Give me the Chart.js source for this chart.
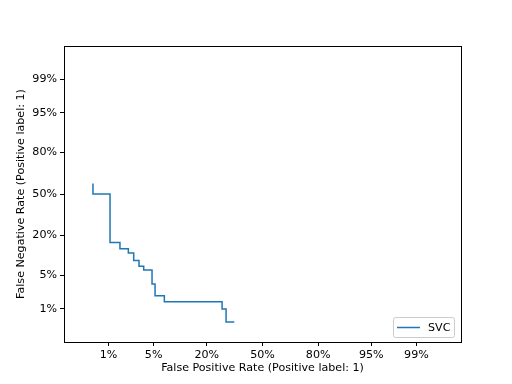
<!DOCTYPE html>
<html>
<head>
<meta charset="utf-8">
<script src="https://cdn.jsdelivr.net/npm/chart.js@4.4.1/dist/chart.umd.min.js"></script>
<style>
  html, body { margin: 0; padding: 0; background: #fff; }
  #wrap { width: 512px; height: 384px; }
</style>
</head>
<body>
<div id="wrap"><canvas id="det-chart" width="512" height="384"></canvas></div>
<script>
// DET curve vertices (rates)
const seriesName = 'SVC';
const fprValues = [0.0052, 0.0052, 0.0106, 0.0106, 0.0156, 0.0156, 0.0213, 0.0213, 0.0258, 0.0258,
  0.031, 0.031, 0.0363, 0.0363, 0.0475, 0.0475, 0.0522, 0.0522, 0.069, 0.069,
  0.2706, 0.2706, 0.291, 0.291, 0.335];
const fnrValues = [0.585, 0.50, 0.50, 0.163, 0.163, 0.133, 0.133, 0.116, 0.116, 0.089,
  0.089, 0.0718, 0.0718, 0.062, 0.062, 0.0342, 0.0342, 0.0195, 0.0195, 0.0144,
  0.0144, 0.0099, 0.0099, 0.00476, 0.00476];
const tickRates = [0.001, 0.01, 0.05, 0.2, 0.5, 0.8, 0.95, 0.99, 0.999];
const tickLabels = ['0%', '1%', '5%', '20%', '50%', '80%', '95%', '99%', '100%'];

// inverse of the standard normal CDF (Acklam)
function probit(p) {
  const a = [-39.69683028665376, 220.9460984245205, -275.9285104469687, 138.3577518672690, -30.66479806614716, 2.506628277459239];
  const b = [-54.47609879822406, 161.5858368580409, -155.6989798598866, 66.80131188771972, -13.28068155211977];
  const c = [-0.007784894002430293, -0.3223964580411365, -2.400758277161838, -2.549732539343734, 4.374664141464968, 2.938163982698783];
  const d = [0.007784695709041462, 0.3224671290700398, 2.445134137142996, 3.754408661907416];
  const pl = 0.02425;
  let q, r;
  if (p < pl) {
    q = Math.sqrt(-2 * Math.log(p));
    return (((((c[0]*q+c[1])*q+c[2])*q+c[3])*q+c[4])*q+c[5]) / ((((d[0]*q+d[1])*q+d[2])*q+d[3])*q+1);
  }
  if (p > 1 - pl) {
    q = Math.sqrt(-2 * Math.log(1 - p));
    return -(((((c[0]*q+c[1])*q+c[2])*q+c[3])*q+c[4])*q+c[5]) / ((((d[0]*q+d[1])*q+d[2])*q+d[3])*q+1);
  }
  q = p - 0.5;
  r = q * q;
  return (((((a[0]*r+a[1])*r+a[2])*r+a[3])*r+a[4])*r+a[5])*q / (((((b[0]*r+b[1])*r+b[2])*r+b[3])*r+b[4])*r+1);
}

const points = fprValues.map((f, i) => ({ x: probit(f), y: probit(fnrValues[i]) }));
const tickPos = tickRates.map(probit);

function labelFor(v) {
  const i = tickPos.findIndex((t) => Math.abs(t - v) < 1e-6);
  return i >= 0 ? tickLabels[i] : '';
}

Chart.defaults.font.family = '"DejaVu Sans", sans-serif';
Chart.defaults.font.size = 11.1;
Chart.defaults.color = '#000';

// frame round the plot area + legend box in the lower right
const framePlugin = {
  id: 'frame',
  afterDraw(chart) {
    const { ctx, chartArea: a } = chart;
    ctx.save();
    ctx.strokeStyle = '#000';
    ctx.lineWidth = 1;
    ctx.strokeRect(Math.round(a.left) + 0.5, Math.round(a.top) + 0.5,
      Math.round(a.right - a.left), Math.round(a.bottom - a.top));

    // legend
    const ds = chart.data.datasets[0];
    const bw = 61, bh = 20;
    const bx = a.right - 7 - bw, by = a.bottom - 5 - bh;
    ctx.fillStyle = 'rgba(255,255,255,0.8)';
    ctx.strokeStyle = '#cccccc';
    ctx.beginPath();
    ctx.roundRect(bx + 0.5, by + 0.5, bw, bh, 2);
    ctx.fill();
    ctx.stroke();
    ctx.strokeStyle = ds.borderColor;
    ctx.lineWidth = 1.5;
    ctx.beginPath();
    ctx.moveTo(bx + 4, by + 10.5);
    ctx.lineTo(bx + 27, by + 10.5);
    ctx.stroke();
    ctx.fillStyle = '#000';
    ctx.font = '11.1px "DejaVu Sans", sans-serif';
    ctx.textBaseline = 'middle';
    ctx.fillText(ds.label, bx + 35, by + 11);
    ctx.restore();
  },
};

const ctx = document.getElementById('det-chart').getContext('2d');
new Chart(ctx, {
  type: 'scatter',
  data: {
    datasets: [{
      label: seriesName,
      data: points,
      showLine: true,
      borderColor: '#1f77b4',
      backgroundColor: '#1f77b4',
      borderWidth: 1.5,
      pointRadius: 0,
      tension: 0,
    }],
  },
  options: {
    responsive: false,
    animation: false,
    layout: { padding: { left: 0, top: 46, right: 51, bottom: 0 } },
    plugins: { legend: { display: false }, tooltip: { enabled: false } },
    scales: {
      x: {
        type: 'linear',
        min: -3,
        max: 3,
        afterBuildTicks: (s) => { s.ticks = tickPos.filter((t) => t >= -3 && t <= 3).map((v) => ({ value: v })); },
        afterFit: (s) => { s.height = 42; },
        ticks: { callback: labelFor, maxRotation: 0, autoSkip: false, padding: 2, color: '#000' },
        grid: { drawOnChartArea: false, drawTicks: true, tickLength: 4, color: '#000' },
        border: { color: '#000' },
        title: { display: true, text: 'False Positive Rate (Positive label: 1)', color: '#000', padding: { top: 0, bottom: 9 } },
      },
      y: {
        type: 'linear',
        min: -3,
        max: 3,
        afterBuildTicks: (s) => { s.ticks = tickPos.filter((t) => t >= -3 && t <= 3).map((v) => ({ value: v })); },
        afterFit: (s) => { s.width = 64; },
        ticks: { callback: labelFor, autoSkip: false, padding: 3, color: '#000' },
        grid: { drawOnChartArea: false, drawTicks: true, tickLength: 4, color: '#000' },
        border: { color: '#000' },
        title: { display: true, text: 'False Negative Rate (Positive label: 1)', color: '#000', padding: { top: 14, bottom: 0 } },
      },
    },
  },
  plugins: [framePlugin],
});
</script>
</body>
</html>
